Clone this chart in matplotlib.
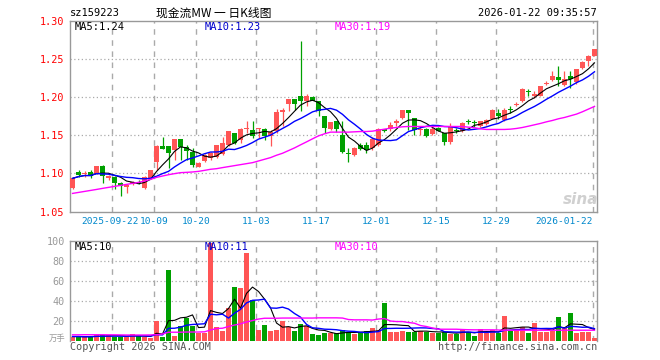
import numpy as np
import pandas as pd
import matplotlib
matplotlib.use("Agg")
import matplotlib.pyplot as plt

# daily candles, 2025-09-11 .. 2026-01-22
opens = [1.081, 1.102, 1.099, 1.102, 1.099, 1.110, 1.0934, 1.0956, 1.087, 1.0825,
         1.086, 1.089, 1.081, 1.0934, 1.1154, 1.1364, 1.136, 1.1307, 1.145, 1.135,
         1.1285, 1.1088, 1.1162, 1.1197, 1.122, 1.1254, 1.137, 1.1535, 1.1439, 1.158,
         1.157, 1.158, 1.158, 1.1495, 1.155, 1.181, 1.191, 1.1974, 1.2018, 1.1943,
         1.1996, 1.195, 1.1755, 1.1583, 1.168, 1.1504, 1.1263, 1.124, 1.137, 1.137,
         1.133, 1.137, 1.1575, 1.1583, 1.166, 1.1724, 1.1833, 1.1724, 1.1566, 1.1583,
         1.1522, 1.159, 1.1535, 1.1417, 1.1557, 1.1557, 1.1676, 1.167, 1.1614, 1.1645,
         1.1715, 1.179, 1.170, 1.184, 1.1895, 1.1943, 1.2074, 1.2009, 1.2018, 1.2175,
         1.2228, 1.226, 1.2162, 1.228, 1.2193, 1.238, 1.247, 1.2544]
highs = [1.0956, 1.105, 1.103, 1.104, 1.110, 1.111, 1.098, 1.097, 1.089, 1.0855,
         1.090, 1.091, 1.097, 1.105, 1.137, 1.147, 1.136, 1.145, 1.145, 1.137,
         1.133, 1.115, 1.1255, 1.128, 1.137, 1.147, 1.155, 1.1535, 1.159, 1.169,
         1.169, 1.159, 1.159, 1.157, 1.184, 1.185, 1.198, 1.198, 1.274, 1.204,
         1.2018, 1.195, 1.1755, 1.1676, 1.169, 1.169, 1.133, 1.134, 1.140, 1.1405,
         1.147, 1.159, 1.158, 1.1676, 1.171, 1.1833, 1.1833, 1.1724, 1.1614, 1.160,
         1.1605, 1.1605, 1.1535, 1.166, 1.159, 1.1667, 1.171, 1.1693, 1.169, 1.171,
         1.1842, 1.184, 1.1855, 1.1886, 1.193, 1.2118, 1.2105, 1.2075, 1.215, 1.2206,
         1.2338, 1.240, 1.2338, 1.2347, 1.2368, 1.247, 1.2557, 1.263]
lows = [1.079, 1.0956, 1.0956, 1.0934, 1.099, 1.0877, 1.091, 1.079, 1.0706, 1.074,
        1.085, 1.086, 1.079, 1.093, 1.1044, 1.1316, 1.1066, 1.118, 1.118, 1.1175,
        1.108, 1.108, 1.115, 1.118, 1.1205, 1.124, 1.136, 1.138, 1.1395, 1.1535,
        1.146, 1.146, 1.144, 1.1355, 1.153, 1.1615, 1.1816, 1.1825, 1.1816, 1.1886,
        1.198, 1.1755, 1.1535, 1.157, 1.1548, 1.1263, 1.1154, 1.123, 1.130, 1.127,
        1.131, 1.1355, 1.154, 1.156, 1.1618, 1.171, 1.1566, 1.1505, 1.1505, 1.147,
        1.1505, 1.1553, 1.137, 1.139, 1.1526, 1.1544, 1.1653, 1.1605, 1.1605, 1.1632,
        1.1706, 1.1715, 1.169, 1.179, 1.1877, 1.193, 1.2018, 1.199, 1.201, 1.2162,
        1.2206, 1.214, 1.214, 1.212, 1.2175, 1.2372, 1.240, 1.2535]
closes = [1.0934, 1.098, 1.100, 1.097, 1.1097, 1.097, 1.097, 1.087, 1.084, 1.0847,
          1.089, 1.087, 1.0956, 1.1044, 1.136, 1.132, 1.1263, 1.145, 1.134, 1.1298,
          1.111, 1.114, 1.124, 1.127, 1.137, 1.140, 1.155, 1.140, 1.158, 1.159,
          1.1495, 1.1588, 1.1495, 1.154, 1.181, 1.1833, 1.1974, 1.191, 1.1943, 1.2018,
          1.1943, 1.182, 1.159, 1.1667, 1.158, 1.1285, 1.125, 1.133, 1.132, 1.131,
          1.1447, 1.1583, 1.155, 1.1636, 1.168, 1.1833, 1.1789, 1.1566, 1.1583, 1.149,
          1.158, 1.1557, 1.1417, 1.1614, 1.155, 1.1658, 1.1667, 1.1658, 1.169, 1.170,
          1.1833, 1.1755, 1.1833, 1.1833, 1.1912, 1.2105, 1.2066, 1.204, 1.214, 1.219,
          1.2272, 1.2228, 1.2237, 1.2237, 1.2368, 1.246, 1.2544, 1.263]
volumes = [4, 4, 3.3, 4, 5.3, 5.3, 5.3, 4, 4, 3.3,
           7, 4.3, 3.3, 2.3, 19.3, 3.3, 71, 5, 15, 22.3,
           15, 7.3, 7.3, 98, 13.3, 9.3, 32.3, 54, 53, 87.3,
           41, 10.3, 16, 9.3, 11, 20, 13.3, 9.3, 16.7, 14.3,
           7, 5.3, 7.3, 7.3, 7.3, 10.7, 8.3, 6.7, 8.3, 10,
           12.7, 10.7, 38, 8.3, 9, 10, 9, 9, 10, 9,
           7.3, 7.7, 8.3, 6.7, 6.7, 11, 9, 5, 12, 7.7,
           11, 7.3, 25, 10, 11, 14, 7.3, 18, 8.3, 9,
           10, 24, 12.3, 28, 7.3, 8.3, 9, 2.3]
# 30-day averages as drawn (they need data from before the window)
ma30_price = [1.0737, 1.075, 1.0763, 1.0776, 1.0789, 1.0803, 1.0816, 1.0829, 1.0842, 1.0855,
              1.0868, 1.0882, 1.0899, 1.0921, 1.0947, 1.0965, 1.0982, 1.0996, 1.1009, 1.1013,
              1.1018, 1.1026, 1.1039, 1.1053, 1.1061, 1.1075, 1.1088, 1.1101, 1.1114, 1.1127,
              1.114, 1.1162, 1.1184, 1.1206, 1.1237, 1.1263, 1.1298, 1.1333, 1.1373, 1.1412,
              1.1452, 1.1491, 1.1518, 1.154, 1.154, 1.154, 1.154, 1.1544, 1.1548, 1.1548,
              1.1553, 1.1566, 1.1579, 1.1592, 1.1601, 1.161, 1.1614, 1.1614, 1.1614, 1.1614,
              1.1614, 1.1614, 1.1614, 1.1614, 1.1614, 1.1614, 1.1605, 1.1597, 1.1583, 1.1575,
              1.1575, 1.1575, 1.1575, 1.1579, 1.1588, 1.1601, 1.1618, 1.1636, 1.1654, 1.1675,
              1.1693, 1.1715, 1.1732, 1.1754, 1.1776, 1.1807, 1.1842, 1.1877]
ma30_vol = [5.7, 5.7, 5.8, 5.8, 5.8, 5.8, 5.7, 5.7, 5.6, 5.5,
            5.5, 5.5, 5.5, 5.6, 5.8, 6.5, 8.3, 8.3, 8.3, 8.5,
            8.5, 8.5, 8.7, 10.5, 12, 12.3, 14, 15.5, 16.7, 18.5,
            20, 21.5, 22.3, 22.3, 22.3, 22.5, 22.5, 22.5, 22.5, 22.5,
            22.5, 22.7, 22.7, 22.7, 22.7, 22.5, 21, 20.7, 20.7, 20.7,
            20.5, 21.5, 22, 19.5, 19, 19, 18, 17.3, 15, 14,
            12.5, 11.3, 11.3, 11.3, 11.3, 11.0, 10.8, 10.7, 10.7, 10.7,
            10.7, 10.5, 10.3, 10.3, 10.3, 10.3, 10.3, 10.3, 10.3, 10.3,
            10.3, 10.3, 10.3, 10.3, 10.3, 10.3, 10.3, 10.3]
tick_idx = [7, 14, 21, 31, 41, 51, 61, 71, 87]
tick_labels = ["2025-09-22", "10-09", "10-20", "11-03", "11-17",
               "12-01", "12-15", "12-29", "2026-01-22"]

RED = "#ff5555"
GREEN = "#00a000"
GRID = "#aaaaaa"
FRAME = "#999999"
MONO = "DejaVu Sans Mono"
CJK = ["Noto Sans CJK SC", "DejaVu Sans"]

o, h, l, c = map(np.array, (opens, highs, lows, closes))
v = np.array(volumes)
x = np.arange(len(c))
up = c >= o
cols = np.where(up, RED, GREEN)
ma5 = pd.Series(c).rolling(5, min_periods=1).mean()
ma10 = pd.Series(c).rolling(10, min_periods=1).mean()
vma5 = pd.Series(v).rolling(5, min_periods=1).mean()
vma10 = pd.Series(v).rolling(10, min_periods=1).mean()

W, H = 660, 360
fig = plt.figure(figsize=(W / 100, H / 100), dpi=100)


def px_axes(left, top, right, bottom):
    return fig.add_axes([left / W, 1 - bottom / H, (right - left) / W, (bottom - top) / H])


def ftext(px, py, s, **kw):
    fig.text(px / W, 1 - py / H, s, **kw)


ax = px_axes(70.3, 20.7, 597.3, 211.5)
axv = px_axes(70.3, 240.7, 597.3, 340.5)
grid_x = [i - 0.37 for i in tick_idx[:-1]] + [86.8]

for a in (ax, axv):
    a.set_xlim(-0.37, 87.47)
    for s in a.spines.values():
        s.set_color(FRAME)
        s.set_linewidth(1)
    for g in grid_x:
        a.axvline(g, color=GRID, lw=1, ls=(0, (4, 4)), zorder=0)
    a.set_xticks([])
    a.tick_params(axis="y", length=0, pad=4)

# price panel
ax.set_ylim(1.05, 1.30)
for y in [1.10, 1.15, 1.20, 1.25]:
    ax.axhline(y, color=GRID, lw=0.9, ls=(0, (1, 2)), zorder=0)
ax.vlines(x, l, h, colors=cols, lw=0.9, zorder=2)
ax.bar(x, np.maximum(np.abs(c - o), 0.0013), bottom=np.minimum(o, c),
       width=0.8, color=cols, linewidth=0, zorder=3)
ax.plot(x, ma5, color="black", lw=0.8, zorder=4)
ax.plot(x, ma10, color="#0000ff", lw=1.0, zorder=4)
ax.plot(x, ma30_price, color="#ff00ff", lw=1.0, zorder=4)
yt = [1.05, 1.10, 1.15, 1.20, 1.25, 1.30]
ax.set_yticks(yt)
ax.set_yticklabels(["%.2f" % t for t in yt], color="#ff0000", family=MONO, fontsize=7.3)
for g, lab in zip(grid_x, tick_labels):
    if lab == "2026-01-22":
        pos, ha = g - 0.1, "right"
    elif lab == "2025-09-22":
        pos, ha = g - 0.4, "center"
    else:
        pos, ha = g, "center"
    ax.text(pos, -0.053, lab, transform=ax.get_xaxis_transform(), ha=ha,
            va="center", color="#0088cc", family=MONO, fontsize=6.8)

# volume panel
axv.set_ylim(0, 100)
axv.spines["bottom"].set_visible(False)
for y in [20, 40, 60, 80]:
    axv.axhline(y, color=GRID, lw=0.9, ls=(0, (1, 2)), zorder=0)
axv.bar(x, v, width=0.8, color=cols, linewidth=0, zorder=2)
axv.plot(x, vma5, color="black", lw=0.8, zorder=3)
axv.plot(x, vma10, color="#0000ff", lw=1.0, zorder=3)
axv.plot(x, ma30_vol, color="#ff00ff", lw=1.0, zorder=3)
axv.set_yticks([20, 40, 60, 80, 100])
axv.set_yticklabels(["20", "40", "60", "80", "100"], color="#999999", family=MONO, fontsize=7.3)

# header and legends
ftext(70, 13.5, "sz159223", ha="left", va="center", family=MONO, fontsize=7.5)
ftext(214, 13.5, "现金流MW 一 日K线图", ha="center", va="center", family=CJK, fontsize=8.5)
ftext(597, 13.5, "2026-01-22 09:35:57", ha="right", va="center", family=MONO, fontsize=7.5)
ftext(75, 27, "MA5:1.24", ha="left", va="center", family=MONO, fontsize=7.5, color="black")
ftext(205, 27, "MA10:1.23", ha="left", va="center", family=MONO, fontsize=7.5, color="#0000cc")
ftext(335, 27, "MA30:1.19", ha="left", va="center", family=MONO, fontsize=7.5, color="#ff00ff")
ftext(75, 246.5, "MA5:10", ha="left", va="center", family=MONO, fontsize=7.5, color="black")
ftext(205, 246.5, "MA10:11", ha="left", va="center", family=MONO, fontsize=7.5, color="#0000cc")
ftext(335, 246.5, "MA30:10", ha="left", va="center", family=MONO, fontsize=7.5, color="#ff00ff")
ftext(65, 338, "万手", ha="right", va="center", family=CJK, fontsize=6, color="#999999")
ftext(70, 347.5, "Copyright 2026 SINA.COM", ha="left", va="center", family=MONO,
      fontsize=7.3, color="#555555")
ftext(597, 347.5, "http://finance.sina.com.cn", ha="right", va="center", family=MONO,
      fontsize=7.3, color="#555555")
ftext(581, 199, "sina", ha="center", va="center", fontsize=11, style="italic",
      weight="bold", color="#d0d0d0")

fig.savefig("out.png", dpi=100)
